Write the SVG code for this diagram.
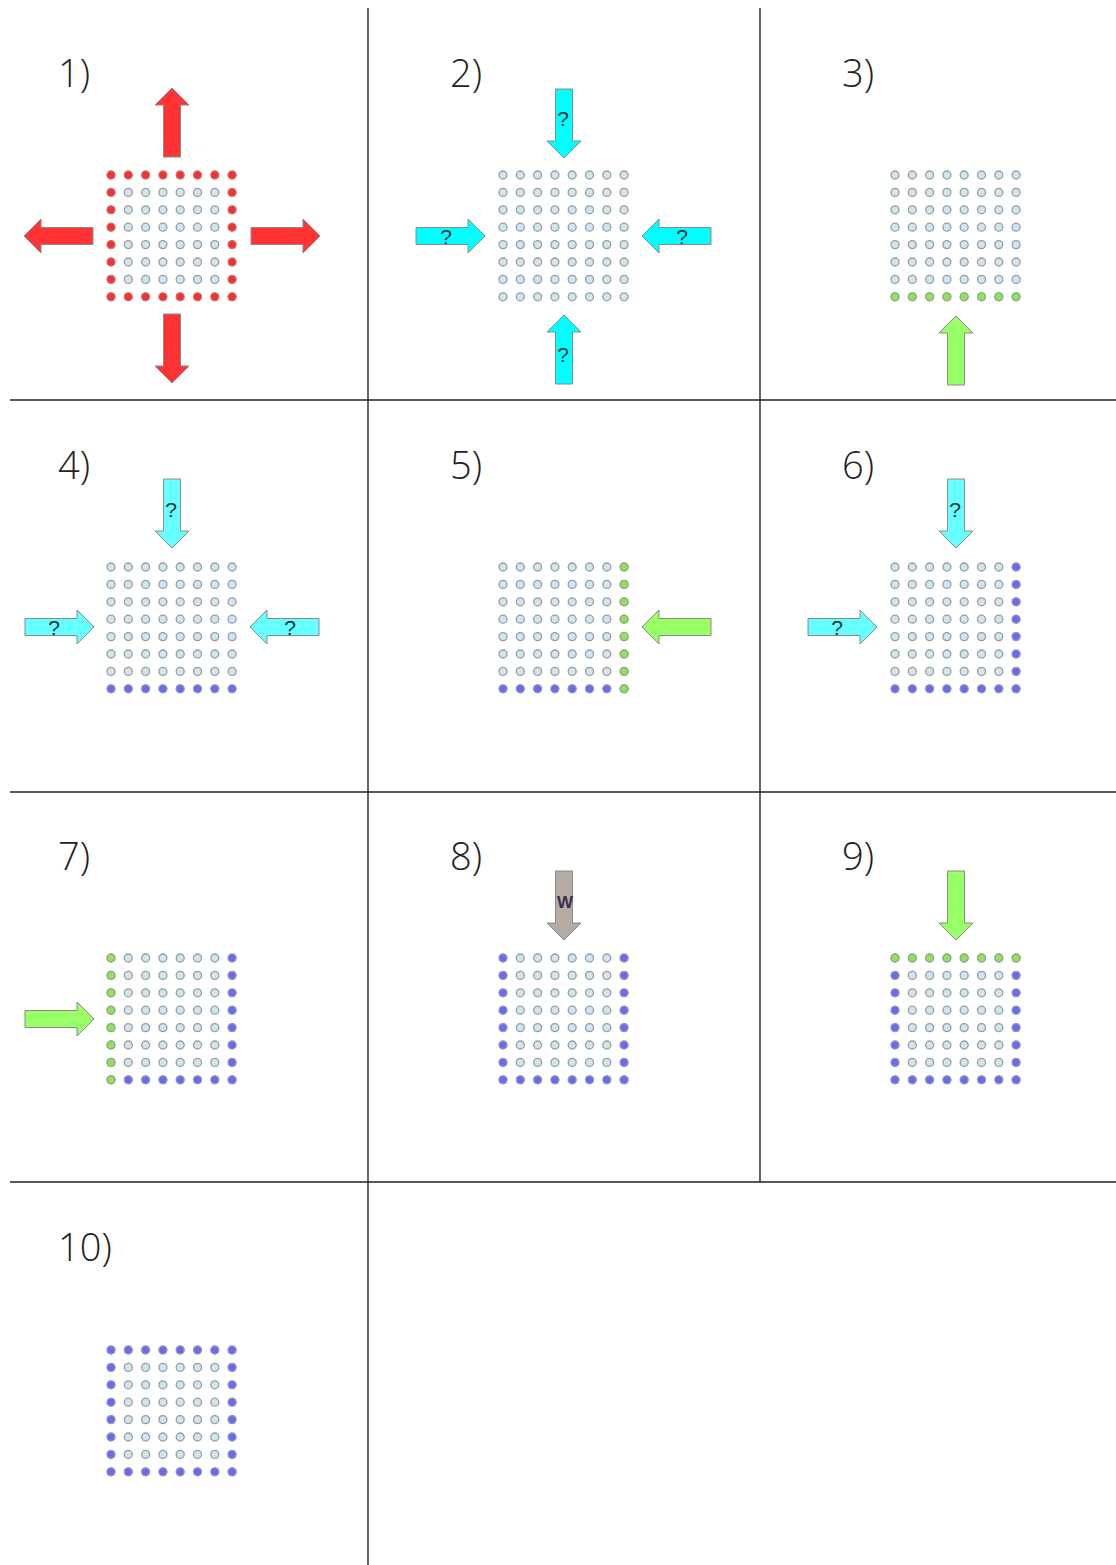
<svg xmlns="http://www.w3.org/2000/svg" xmlns:xlink="http://www.w3.org/1999/xlink" width="1116" height="1565" viewBox="0 0 1116 1565">
<style>
.lbl{font-family:"Open Sans","Liberation Sans",sans-serif;font-weight:300;font-size:38px;fill:#222}
.q{font-family:"Liberation Sans",Arial,sans-serif;font-size:21px;fill:#1a3535;text-anchor:middle}
.w{font-family:"Liberation Sans",Arial,sans-serif;font-size:17px;font-weight:bold;fill:#3a3050;text-anchor:middle}
.light{fill:#cfe5f1;stroke:#9c9c9c;stroke-width:1.3}
.red{fill:#ee3535;stroke:#e07070;stroke-width:0.8}
.blue{fill:#6a6aee;stroke:#9a9ac0;stroke-width:1}
.green{fill:#92e05e;stroke:#8aaa80;stroke-width:1}
.ar{stroke:#8a8a8a;stroke-width:1}
.ared{fill:#ff3333}
.acy{fill:#00ffff}
.acl{fill:#66ffff}
.agr{fill:#99ff66}
.agy{fill:#b3aba4}
.line{stroke:#222;stroke-width:1.4;fill:none}
</style>
<defs>
<path id="arr" d="M0,0 L-17,-17 L-17,-8.5 L-69,-8.5 L-69,8.5 L-17,8.5 L-17,17 Z"/>
<g id="row"><circle cx="0" cy="0" r="4"/><circle cx="17.3" cy="0" r="4"/><circle cx="34.6" cy="0" r="4"/><circle cx="51.9" cy="0" r="4"/><circle cx="69.2" cy="0" r="4"/><circle cx="86.5" cy="0" r="4"/><circle cx="103.8" cy="0" r="4"/><circle cx="121.1" cy="0" r="4"/></g>
<g id="col"><circle cx="0" cy="0" r="4"/><circle cx="0" cy="17.4" r="4"/><circle cx="0" cy="34.8" r="4"/><circle cx="0" cy="52.2" r="4"/><circle cx="0" cy="69.6" r="4"/><circle cx="0" cy="87" r="4"/><circle cx="0" cy="104.4" r="4"/><circle cx="0" cy="121.8" r="4"/></g>
<g id="grid"><use xlink:href="#row" y="0"/><use xlink:href="#row" y="17.4"/><use xlink:href="#row" y="34.8"/><use xlink:href="#row" y="52.2"/><use xlink:href="#row" y="69.6"/><use xlink:href="#row" y="87"/><use xlink:href="#row" y="104.4"/><use xlink:href="#row" y="121.8"/></g>
</defs>
<rect width="1116" height="1565" fill="#fff"/>
<g id="connectors">
<line class="line" x1="368" y1="8" x2="368" y2="1565"/>
<line class="line" x1="760" y1="8" x2="760" y2="1182"/>
<line class="line" x1="10" y1="400" x2="1116" y2="400"/>
<line class="line" x1="10" y1="792" x2="1116" y2="792"/>
<line class="line" x1="10" y1="1182" x2="1116" y2="1182"/>
</g>
<g id="p1">
<text class="lbl" x="58" y="87">1)</text>
<use xlink:href="#grid" class="light" x="111" y="175"/>
<use xlink:href="#row" class="red" x="111" y="175"/>
<use xlink:href="#row" class="red" x="111" y="296.8"/>
<use xlink:href="#col" class="red" x="111" y="175"/>
<use xlink:href="#col" class="red" x="232.1" y="175"/>
<use xlink:href="#arr" class="ar ared" transform="translate(172,88) rotate(-90)"/>
<use xlink:href="#arr" class="ar ared" transform="translate(172,383) rotate(90)"/>
<use xlink:href="#arr" class="ar ared" transform="translate(24,236) rotate(180)"/>
<use xlink:href="#arr" class="ar ared" transform="translate(320,236)"/>
</g>
<g id="p2">
<text class="lbl" x="450" y="87">2)</text>
<use xlink:href="#grid" class="light" x="503" y="175"/>
<use xlink:href="#arr" class="ar acy" transform="translate(564,158) rotate(90)"/>
<text class="q" x="563" y="126">?</text>
<use xlink:href="#arr" class="ar acy" transform="translate(564,315) rotate(-90)"/>
<text class="q" x="563" y="362">?</text>
<use xlink:href="#arr" class="ar acy" transform="translate(485,236)"/>
<text class="q" x="446" y="244">?</text>
<use xlink:href="#arr" class="ar acy" transform="translate(642,236) rotate(180)"/>
<text class="q" x="682" y="244">?</text>
</g>
<g id="p3">
<text class="lbl" x="842" y="87">3)</text>
<use xlink:href="#grid" class="light" x="895" y="175"/>
<use xlink:href="#row" class="green" x="895" y="296.8"/>
<use xlink:href="#arr" class="ar agr" transform="translate(956,316) rotate(-90)"/>
</g>
<g id="p4">
<text class="lbl" x="58" y="479">4)</text>
<use xlink:href="#grid" class="light" x="111" y="567"/>
<use xlink:href="#row" class="blue" x="111" y="688.8"/>
<use xlink:href="#arr" class="ar acl" transform="translate(172,548) rotate(90)"/>
<text class="q" x="171" y="517">?</text>
<use xlink:href="#arr" class="ar acl" transform="translate(94,627)"/>
<text class="q" x="54" y="635">?</text>
<use xlink:href="#arr" class="ar acl" transform="translate(250,627) rotate(180)"/>
<text class="q" x="290" y="635">?</text>
</g>
<g id="p5">
<text class="lbl" x="450" y="479">5)</text>
<use xlink:href="#grid" class="light" x="503" y="567"/>
<use xlink:href="#row" class="blue" x="503" y="688.8"/>
<use xlink:href="#col" class="green" x="624.1" y="567"/>
<use xlink:href="#arr" class="ar agr" transform="translate(642,627) rotate(180)"/>
</g>
<g id="p6">
<text class="lbl" x="842" y="479">6)</text>
<use xlink:href="#grid" class="light" x="895" y="567"/>
<use xlink:href="#row" class="blue" x="895" y="688.8"/>
<use xlink:href="#col" class="blue" x="1016.1" y="567"/>
<use xlink:href="#arr" class="ar acl" transform="translate(956,548) rotate(90)"/>
<text class="q" x="955" y="517">?</text>
<use xlink:href="#arr" class="ar acl" transform="translate(877,627)"/>
<text class="q" x="837" y="635">?</text>
</g>
<g id="p7">
<text class="lbl" x="58" y="870">7)</text>
<use xlink:href="#grid" class="light" x="111" y="958"/>
<use xlink:href="#row" class="blue" x="111" y="1079.8"/>
<use xlink:href="#col" class="blue" x="232.1" y="958"/>
<use xlink:href="#col" class="green" x="111" y="958"/>
<use xlink:href="#arr" class="ar agr" transform="translate(94,1019)"/>
</g>
<g id="p8">
<text class="lbl" x="450" y="870">8)</text>
<use xlink:href="#grid" class="light" x="503" y="958"/>
<use xlink:href="#row" class="blue" x="503" y="1079.8"/>
<use xlink:href="#col" class="blue" x="503" y="958"/>
<use xlink:href="#col" class="blue" x="624.1" y="958"/>
<use xlink:href="#arr" class="ar agy" transform="translate(564,940) rotate(90)"/>
<text class="w" x="565" y="908">W</text>
</g>
<g id="p9">
<text class="lbl" x="842" y="870">9)</text>
<use xlink:href="#grid" class="light" x="895" y="958"/>
<use xlink:href="#row" class="blue" x="895" y="1079.8"/>
<use xlink:href="#col" class="blue" x="895" y="958"/>
<use xlink:href="#col" class="blue" x="1016.1" y="958"/>
<use xlink:href="#row" class="green" x="895" y="958"/>
<use xlink:href="#arr" class="ar agr" transform="translate(956,940) rotate(90)"/>
</g>
<g id="p10">
<text class="lbl" x="58" y="1261">10)</text>
<use xlink:href="#grid" class="light" x="111" y="1350"/>
<use xlink:href="#row" class="blue" x="111" y="1350"/>
<use xlink:href="#row" class="blue" x="111" y="1471.8"/>
<use xlink:href="#col" class="blue" x="111" y="1350"/>
<use xlink:href="#col" class="blue" x="232.1" y="1350"/>
</g>
</svg>
